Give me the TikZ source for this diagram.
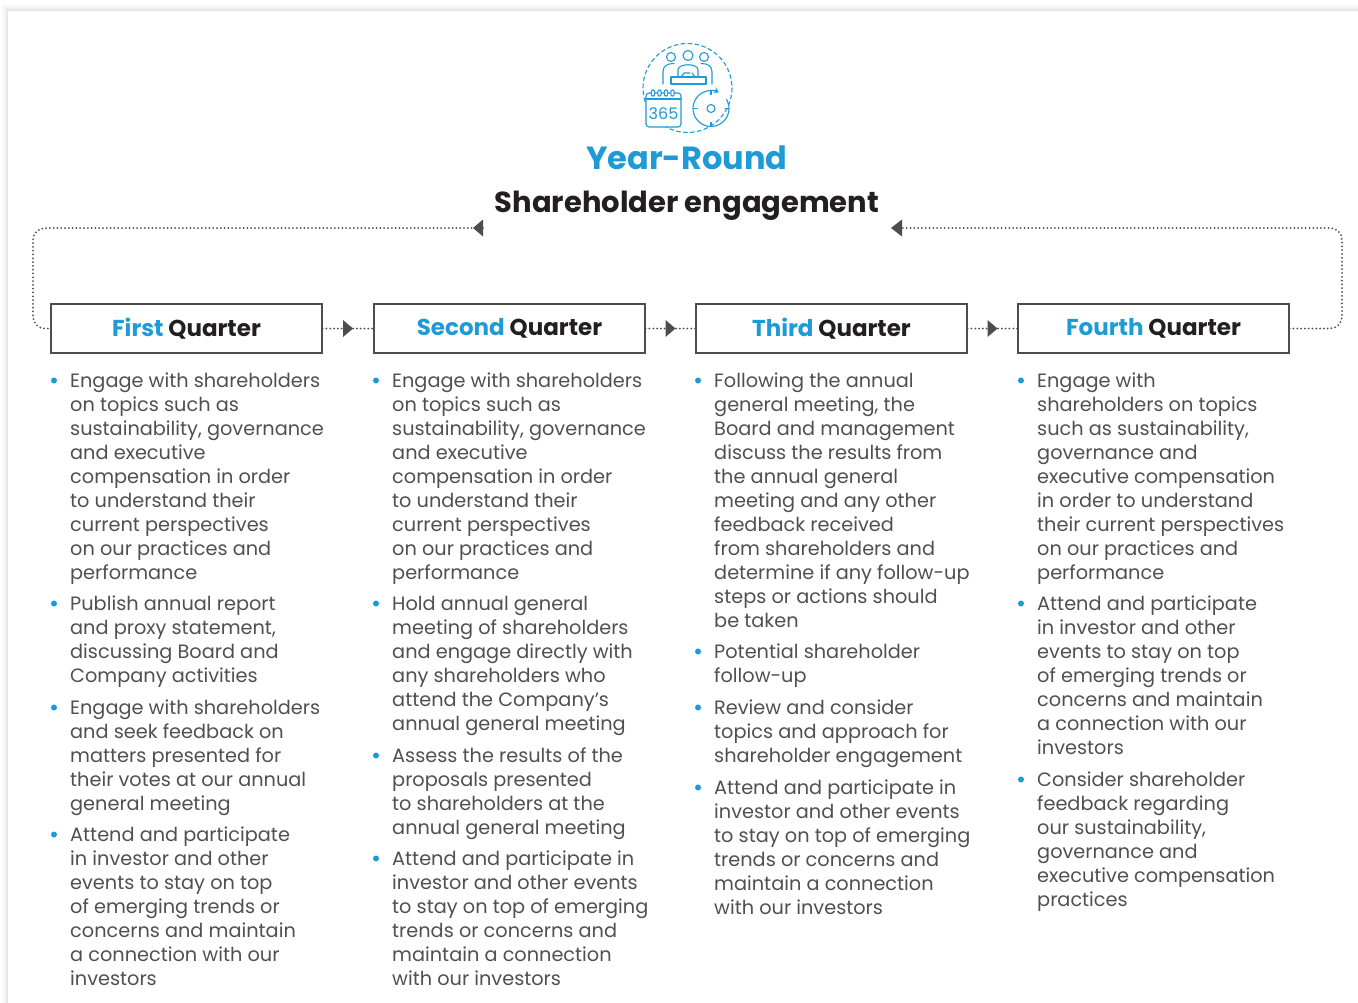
\documentclass[tikz,border=0pt]{standalone}
\usepackage{fontspec}
\setmainfont{Poppins}
\usetikzlibrary{calc,arrows.meta}
\definecolor{qblue}{HTML}{1E9BD7}
\definecolor{qdark}{HTML}{231F20}
\definecolor{qtext}{HTML}{505050}
\definecolor{qline}{HTML}{4D4D4D}
\newcommand\qitem[4]{%
  \fill[qblue] (#2-16,#3+0.5) circle (3);
  \node[itemtext] (#1) at (#2,#3-9.8) {\strut #4};
}
\begin{document}
\begin{tikzpicture}[x=1pt,y=-1pt,
  itemtext/.style={anchor=north west, inner sep=0pt, align=left, text=qtext,
    font=\fontsize{19.3}{24}\selectfont},
  qbox/.style={draw=qline, line width=1.3pt, fill=white, minimum width=271pt,
    minimum height=49pt, inner sep=0pt, text=qdark,
    font=\bfseries\fontsize{23}{26}\selectfont},
  dotline/.style={draw=qline, line width=2pt, line cap=round,
    dash pattern=on 0pt off 3.8pt},
  tipfill/.style={fill=qline}]
\useasboundingbox (0,0) rectangle (1358,1002);
\fill[white] (0,0) rectangle (1358,1002);
% card shadow
\foreach \k/\c in {6/2,5/3,4/4,3/6,2/8,1/11}
  \draw[black!\c, line width=1pt] (8-\k,1010) -- (8-\k,11-\k) -- (1370,11-\k);
\fill[white] (8,11) rectangle (1360,1004);

% icon
\begin{scope}[draw=qblue, line width=1.1pt, line cap=round, line join=round]
  \draw[dash pattern=on 4pt off 3pt] (687.5,88) circle (44.5);
  \draw (671,57) circle (4.5);
  \draw (688,55.5) circle (5);
  \draw (704,57) circle (4.5);
  \draw (663,84) -- (663,72) .. controls (663,66) and (667,63.5) .. (674,63.5);
  \draw (712,84) -- (712,72) .. controls (712,66) and (708,63.5) .. (701,63.5);
  \draw (678,77) -- (678,70) .. controls (678,63) and (698,63) .. (698,70) -- (698,77);
  \draw[fill=white] (671,77) rectangle (706,84);
  \draw (681,77) -- (684,73) -- (690,73);
  \draw (695,77) -- (692,73);
  \draw[fill=white, rounded corners=3] (646,93) rectangle (681,127);
  \draw (646,99) -- (681,99);
  \foreach \xx in {653,659.5,666,672.5} \draw[fill=white] (\xx,93) ellipse (1.8 and 3.3);
  \node[text=qblue, inner sep=0pt, font=\fontsize{16}{16}\selectfont] (cal) at (663.5,114) {365};
  \draw[-{Stealth[length=5pt,width=6pt]}] (711,108.5) ++(-30:18) arc (-30:296:18);
  \draw (711,108.5) circle (4);
  \foreach \a in {0,90,180,270} \draw (711,108.5) ++(\a:14) -- ++(\a:4);
\end{scope}

% titles
\node[text=qblue, inner sep=0pt, font=\bfseries\fontsize{32}{36}\selectfont] (yr) at (687,158) {Year-Round};
\node[text=qdark, inner sep=0pt, font=\bfseries\fontsize{29}{32}\selectfont] (sh) at (687,205.5) {Shareholder engagement};

% quarter boxes
\node[qbox] (q1) at (186.5,328.5) {\textcolor{qblue}{First} Quarter};
\node[qbox] (q2) at (509.5,328.5) {\textcolor{qblue}{Second} Quarter};
\node[qbox] (q3) at (831.5,328.5) {\textcolor{qblue}{Third} Quarter};
\node[qbox] (q4) at (1153.5,328.5) {\textcolor{qblue}{Fourth} Quarter};

% connectors between boxes
\foreach \a/\b in {q1/q2,q2/q3,q3/q4}{
  \draw[dotline] (\a.east) -- (\b.west) coordinate[pos=0.5] (m\a);
  \fill[tipfill] ($(m\a)+(-5,-8.5)$) -- ($(m\a)+(5,0)$) -- ($(m\a)+(-5,8.5)$) -- cycle;
}
% loop back connectors
\coordinate (tl) at (483,228);
\coordinate (tr) at (902,228);
\coordinate (lcorner) at (33,328.5);
\coordinate (rcorner) at (1342,328.5);
\draw[dotline, rounded corners=12pt] (tl) -| (lcorner) -- (q1.west);
\draw[dotline, rounded corners=12pt] (q4.east) -- (rcorner) |- (tr);
\fill[tipfill] ($(tl)+(0,-8.5)$) -- ($(tl)+(0,8.5)$) -- ($(tl)+(-10,0)$) -- cycle;
\fill[tipfill] ($(tr)+(0,-8.5)$) -- ($(tr)+(0,8.5)$) -- ($(tr)+(-11,0)$) -- cycle;

% column 1
\qitem{a1}{70}{380}{Engage with shareholders\\on topics such as\\sustainability, governance\\and executive\\compensation in order\\to understand their\\current perspectives\\on our practices and\\performance}
\qitem{a2}{70}{603}{Publish annual report\\and proxy statement,\\discussing Board and\\Company activities}
\qitem{a3}{70}{707}{Engage with shareholders\\and seek feedback on\\matters presented for\\their votes at our annual\\general meeting}
\qitem{a4}{70}{834}{Attend and participate\\in investor and other\\events to stay on top\\of emerging trends or\\concerns and maintain\\a connection with our\\investors}
% column 2
\qitem{b1}{392}{380}{Engage with shareholders\\on topics such as\\sustainability, governance\\and executive\\compensation in order\\to understand their\\current perspectives\\on our practices and\\performance}
\qitem{b2}{392}{603}{Hold annual general\\meeting of shareholders\\and engage directly with\\any shareholders who\\attend the Company’s\\annual general meeting}
\qitem{b3}{392}{755}{Assess the results of the\\proposals presented\\to shareholders at the\\annual general meeting}
\qitem{b4}{392}{858}{Attend and participate in\\investor and other events\\to stay on top of emerging\\trends or concerns and\\maintain a connection\\with our investors}
% column 3
\qitem{c1}{714}{380}{Following the annual\\general meeting, the\\Board and management\\discuss the results from\\the annual general\\meeting and any other\\feedback received\\from shareholders and\\determine if any follow-up\\steps or actions should\\be taken}
\qitem{c2}{714}{651}{Potential shareholder\\follow-up}
\qitem{c3}{714}{707}{Review and consider\\topics and approach for\\shareholder engagement}
\qitem{c4}{714}{787}{Attend and participate in\\investor and other events\\to stay on top of emerging\\trends or concerns and\\maintain a connection\\with our investors}
% column 4
\qitem{d1}{1037}{380}{Engage with\\shareholders on topics\\such as sustainability,\\governance and\\executive compensation\\in order to understand\\their current perspectives\\on our practices and\\performance}
\qitem{d2}{1037}{603}{Attend and participate\\in investor and other\\events to stay on top\\of emerging trends or\\concerns and maintain\\a connection with our\\investors}
\qitem{d3}{1037}{779}{Consider shareholder\\feedback regarding\\our sustainability,\\governance and\\executive compensation\\practices}
\end{tikzpicture}
\end{document}
